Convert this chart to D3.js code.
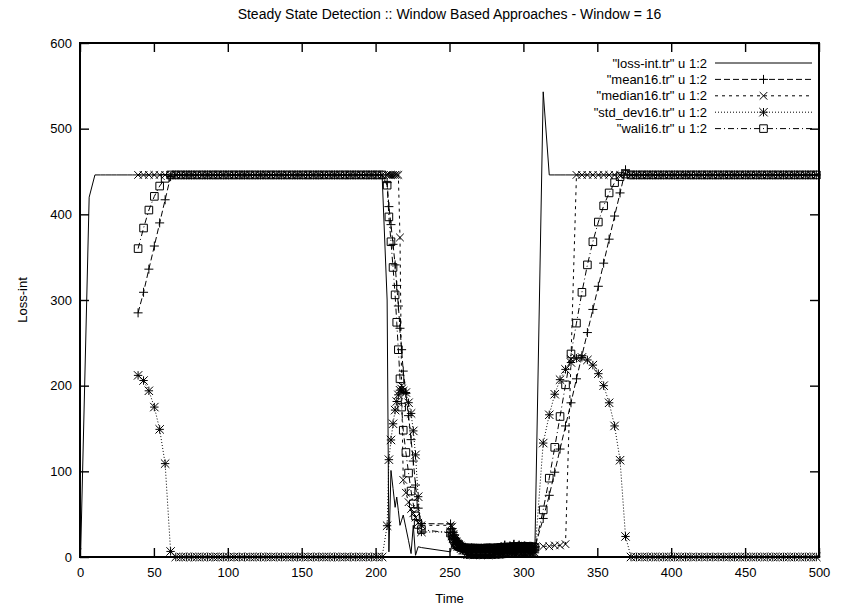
<!DOCTYPE html>
<html>
<head>
<meta charset="utf-8">
<title>Steady State Detection</title>
<script src="https://cdn.jsdelivr.net/npm/d3@7"></script>
<style>
  body { margin: 0; background: #fff; }
  svg text { font-family: "Liberation Sans", Arial, Helvetica, sans-serif; fill: #000; }
</style>
</head>
<body>
<div id="chart"></div>
<script>
// time of each loss event (shared by every trace)
var time = [
  // start-up
  0, 0.1, 0.2, 0.3, 0.4, 0.5, 6.2, 10.1, 13.8, 17.4, 21.1, 24.7, 28.4, 32.0, 35.6, 39.3, 43.0, 46.6, 50.3, 53.9, 57.6, 61.3,
  // first steady state
  64.8, 68.4, 72.0, 75.5, 79.1, 82.7, 86.3, 89.9, 93.4, 97.0, 100.6, 104.2, 107.8, 111.3, 114.9, 118.5, 122.1, 125.7, 129.2, 132.8,
  136.4, 140.0, 143.6, 147.1, 150.7, 154.3, 157.9, 161.5, 165.0, 168.6, 172.2, 175.8, 179.4, 182.9, 186.5, 190.1, 193.7, 197.3, 200.8, 204.4,
  // drop
  207.8, 209.0, 210.4, 211.8, 213.2, 214.3, 215.4, 216.5, 217.6, 218.7, 220.5, 222.3, 224.0, 225.5, 227.0, 228.8, 231.0,
  // congestion
  250.7, 251.8, 252.6, 253.5, 254.4, 255.3, 256.1, 257.0, 257.8, 258.8,
  259.6, 260.5, 261.3, 262.2, 263.1, 264.0, 264.8, 265.7, 266.5, 267.5,
  268.3, 269.2, 270.0, 271.0, 271.8, 272.7, 273.5, 274.4, 275.3, 276.2,
  277.0, 277.9, 278.7, 279.7, 280.5, 281.4, 282.2, 283.1, 284.0, 284.9,
  285.7, 286.6, 287.4, 288.4, 289.2, 290.1, 290.9, 291.9, 292.7, 293.6,
  294.4, 295.3, 296.2, 297.1, 297.9, 298.8, 299.6, 300.6, 301.4, 302.3,
  303.1, 304.0, 304.9, 305.8, 306.6, 307.8,
  // recovery
  313.4, 317.5, 321.2, 324.8, 328.5, 332.2, 335.9, 339.6, 343.3, 347.0, 350.7, 354.3, 358.0, 361.7, 365.4, 369.1, 372.8,
  // second steady state
  376.5, 380.2, 383.8, 387.5, 391.2, 394.9, 398.6, 402.3, 406.0, 409.7, 413.3, 417.0, 420.7, 424.4, 428.1, 431.8, 435.5, 439.2, 442.8,
  446.5, 450.2, 453.9, 457.6, 461.3, 465.0, 468.7, 472.3, 476.0, 479.7, 483.4, 487.1, 490.8, 494.5, 498.2, 501.9, 505.5, 509.2, 512.9
];

var lossInt = [
  60, 20, 15, 12, 10, 9, 420, 446, 446, 446, 446, 446, 446, 446, 446, 446, 446, 446, 446, 446, 446, 446,
  446, 446, 446, 446, 446, 446, 446, 446, 446, 446, 446, 446, 446, 446, 446, 446, 446, 446, 446, 446,
  446, 446, 446, 446, 446, 446, 446, 446, 446, 446, 446, 446, 446, 446, 446, 446, 446, 446, 446, 446,
  300, 6, 101, 80, 58, 70, 54, 37, 43, 49, 34, 19, 4, 37, 2, 12, 11,
  6, 16, 9, 12, 7, 11, 14, 8, 10, 13,
  6, 11, 9, 12, 8, 10, 15, 7, 9, 12,
  10, 8, 13, 9, 11, 7, 12, 10, 14, 8,
  11, 9, 13, 6, 12, 10, 15, 8, 11, 17,
  5, 13, 19, 4, 14, 9, 18, 6, 12, 20,
  3, 15, 11, 19, 5, 14, 8, 18, 4, 16,
  10, 13, 6, 17, 9, 12,
  543, 446, 446, 446, 446, 446, 446, 446, 446, 446, 446, 446, 446, 446, 446, 446, 446,
  446, 446, 446, 446, 446, 446, 446, 446, 446, 446, 446, 446, 446, 446, 446, 446, 446, 446, 446,
  446, 446, 446, 446, 446, 446, 446, 446, 446, 446, 446, 446, 446, 446, 446, 446, 446, 446, 446
];

var mean16 = [
  null, null, null, null, null, null, null, null, null, null, null, null, null, null, null, 285, 309, 336, 363, 390, 417, 444,
  446, 446, 446, 446, 446, 446, 446, 446, 446, 446, 446, 446, 446, 446, 446, 446, 446, 446, 446, 446,
  446, 446, 446, 446, 446, 446, 446, 446, 446, 446, 446, 446, 446, 446, 446, 446, 446, 446, 446, 446,
  437, 409, 388, 365, 341, 317, 293, 267, 242, 217, 191, 165, 137, 112, 84, 57, 39,
  38.6, 33.3, 28.8, 25.9, 22.0, 19.3, 17.9, 15.7, 13.3, 11.9,
  11.1, 11.6, 9.8, 10.4, 10.2, 10.1, 10.7, 10.1, 10.1, 10.1,
  10.3, 10.1, 10.1, 10.1, 10.2, 9.8, 10.2, 10.1, 10.4, 10.2,
  10.4, 10.3, 10.2, 10.1, 10.3, 10.2, 10.5, 10.5, 10.4, 10.9,
  10.5, 10.9, 11.3, 10.9, 10.9, 11.0, 11.4, 11.3, 11.2, 12.1,
  11.5, 11.8, 11.6, 12.3, 11.9, 11.7, 11.9, 12.2, 11.3, 12.0,
  11.8, 12.0, 11.3, 11.9, 11.8, 11.3,
  45, 72, 99, 126, 153, 180, 208, 235, 262, 289, 316, 343, 371, 398, 425, 452, 446,
  446, 446, 446, 446, 446, 446, 446, 446, 446, 446, 446, 446, 446, 446, 446, 446, 446, 446, 446,
  446, 446, 446, 446, 446, 446, 446, 446, 446, 446, 446, 446, 446, 446, 446, 446, 446, 446, 446
];

var median16 = [
  null, null, null, null, null, null, null, null, null, null, null, null, null, null, null, 446, 446, 446, 446, 446, 446, 446,
  446, 446, 446, 446, 446, 446, 446, 446, 446, 446, 446, 446, 446, 446, 446, 446, 446, 446, 446, 446,
  446, 446, 446, 446, 446, 446, 446, 446, 446, 446, 446, 446, 446, 446, 446, 446, 446, 446, 446, 446,
  446, 446, 446, 446, 446, 446, 446, 373, 200, 90, 75, 64, 56, 51, 46, 40, 37,
  37, 35.5, 26.5, 17.5, 14, 12, 12, 11.5, 11, 11,
  10.5, 11, 10.5, 11, 10.5, 10, 10, 10, 10, 10.5,
  10, 10, 10, 10.5, 10, 10, 10, 10.5, 10, 10,
  10, 10, 10.5, 10, 10, 10, 10.5, 11, 11, 11,
  11, 11, 11, 11.5, 11, 11.5, 12, 11.5, 12, 12,
  12, 12, 12.5, 12, 12.5, 13, 13, 13, 13, 13,
  13, 12.5, 12.5, 12, 12, 11.5,
  12.5, 12.5, 13.5, 13.5, 15, 231, 446, 446, 446, 446, 446, 446, 446, 446, 446, 446, 446,
  446, 446, 446, 446, 446, 446, 446, 446, 446, 446, 446, 446, 446, 446, 446, 446, 446, 446, 446,
  446, 446, 446, 446, 446, 446, 446, 446, 446, 446, 446, 446, 446, 446, 446, 446, 446, 446, 446
];

var stdDev16 = [
  null, null, null, null, null, null, null, null, null, null, null, null, null, null, null, 212, 206, 194, 175, 149, 109, 6.5,
  0, 0, 0, 0, 0, 0, 0, 0, 0, 0, 0, 0, 0, 0, 0, 0, 0, 0, 0, 0,
  0, 0, 0, 0, 0, 0, 0, 0, 0, 0, 0, 0, 0, 0, 0, 0, 0, 0, 0, 0,
  36.5, 113.6, 136.6, 155.5, 171.5, 181.5, 189.3, 194.7, 196.1, 193.7, 192.0, 180.1, 167.6, 147.2, 119.2, 70.4, 29.2,
  29.2, 24.5, 21.7, 20.6, 17.4, 15.3, 14.6, 13.1, 9.7, 8.0,
  7.9, 7.6, 3.5, 2.8, 2.9, 2.6, 3.1, 2.8, 2.5, 2.7,
  2.6, 2.6, 2.7, 2.5, 2.6, 2.8, 2.5, 2.6, 2.5, 2.5,
  2.6, 2.7, 2.8, 3.0, 2.9, 2.9, 3.1, 3.0, 3.0, 3.6,
  3.8, 3.9, 4.5, 4.8, 4.8, 4.8, 5.2, 5.2, 5.0, 4.9,
  5.5, 5.6, 5.6, 5.7, 5.9, 5.7, 5.6, 5.6, 5.9, 5.6,
  5.3, 5.2, 5.0, 5.1, 5.1, 4.9,
  133, 166, 190, 207, 219, 227, 232, 233, 230, 224, 214, 200, 180, 153, 113, 24, 0,
  0, 0, 0, 0, 0, 0, 0, 0, 0, 0, 0, 0, 0, 0, 0, 0, 0, 0, 0,
  0, 0, 0, 0, 0, 0, 0, 0, 0, 0, 0, 0, 0, 0, 0, 0, 0, 0, 0
];

var wali16 = [
  null, null, null, null, null, null, null, null, null, null, null, null, null, null, null, 360, 384, 405, 421, 433, 442, 446,
  446, 446, 446, 446, 446, 446, 446, 446, 446, 446, 446, 446, 446, 446, 446, 446, 446, 446, 446, 446,
  446, 446, 446, 446, 446, 446, 446, 446, 446, 446, 446, 446, 446, 446, 446, 446, 446, 446, 446, 446,
  434, 397, 368, 338, 306, 274, 242, 208, 175, 148, 122, 98, 77, 62, 48, 38, 32,
  28.0, 24.5, 21.1, 18.7, 16.1, 14.4, 13.4, 12.1, 11.3, 11.1,
  10.5, 10.4, 10.1, 10.3, 10.1, 10.0, 10.6, 10.0, 10.1, 10.2,
  10.3, 10.0, 10.2, 10.2, 10.1, 9.8, 10.2, 10.1, 10.5, 10.3,
  10.3, 10.3, 10.3, 10.2, 10.3, 10.3, 10.5, 10.5, 10.5, 11.1,
  10.5, 11.0, 11.6, 11.1, 11.1, 11.2, 11.8, 11.2, 11.4, 12.3,
  11.3, 11.9, 11.6, 12.5, 11.7, 11.9, 11.9, 12.0, 11.4, 12.0,
  11.8, 11.7, 11.2, 11.8, 11.7, 11.1,
  55, 92, 128, 164, 201, 237, 273, 309, 341, 368, 391, 410, 425, 437, 444, 447, 446,
  446, 446, 446, 446, 446, 446, 446, 446, 446, 446, 446, 446, 446, 446, 446, 446, 446, 446, 446,
  446, 446, 446, 446, 446, 446, 446, 446, 446, 446, 446, 446, 446, 446, 446, 446, 446, 446, 446
];

var seriesNames = ['"loss-int.tr" u 1:2', '"mean16.tr" u 1:2', '"median16.tr" u 1:2', '"std_dev16.tr" u 1:2', '"wali16.tr" u 1:2'];
var xTickValues = [0, 50, 100, 150, 200, 250, 300, 350, 400, 450, 500];
var yTickValues = [0, 100, 200, 300, 400, 500, 600];

var svgWidth = 854;
var svgHeight = 611;

var margin = {
  top: 43,
  right: 35,
  bottom: 54,
  left: 80
};

var width = svgWidth - margin.left - margin.right;
var height = svgHeight - margin.top - margin.bottom;

var svg = d3.select("#chart")
  .append("svg")
  .attr("width", svgWidth)
  .attr("height", svgHeight);

var chartGroup = svg.append("g")
  .attr("transform", `translate(${margin.left}, ${margin.top})`);

var xLinearScale = d3.scaleLinear().domain([0, 500]).range([0, width]);
var yLinearScale = d3.scaleLinear().domain([0, 600]).range([height, 0]);

// gnuplot style: ticks point inwards on all four sides
var tickLen = 9;

var bottomAxis = d3.axisBottom(xLinearScale).tickValues(xTickValues)
  .tickSizeInner(-tickLen).tickSizeOuter(0).tickPadding(11);
var topAxis = d3.axisTop(xLinearScale).tickValues(xTickValues)
  .tickSizeInner(-tickLen).tickSizeOuter(0).tickFormat("");
var leftAxis = d3.axisLeft(yLinearScale).tickValues(yTickValues)
  .tickSizeInner(-tickLen).tickSizeOuter(0).tickPadding(8);
var rightAxis = d3.axisRight(yLinearScale).tickValues(yTickValues)
  .tickSizeInner(-tickLen).tickSizeOuter(0).tickFormat("");

function styleAxis(g) {
  g.select(".domain").remove();
  g.selectAll(".tick line").attr("stroke", "#000").attr("stroke-width", 1.4);
  g.selectAll(".tick text").style("font-size", "13px").attr("fill", "#000");
}

chartGroup.append("g").attr("transform", `translate(0, ${height})`).call(bottomAxis).call(styleAxis);
chartGroup.append("g").call(topAxis).call(styleAxis);
chartGroup.append("g").call(leftAxis).call(styleAxis);
chartGroup.append("g").attr("transform", `translate(${width}, 0)`).call(rightAxis).call(styleAxis);

chartGroup.append("clipPath")
  .attr("id", "plot-clip")
  .append("rect")
  .attr("width", width)
  .attr("height", height);

// point shapes
function markerPath(type, s) {
  if (type == "plus") return `M${-s},0H${s}M0,${-s}V${s}`;
  if (type == "cross") return `M${-s},${-s}L${s},${s}M${-s},${s}L${s},${-s}`;
  if (type == "star") return `M${-s},0H${s}M0,${-s}V${s}M${-s},${-s}L${s},${s}M${-s},${s}L${s},${-s}`;
  if (type == "box") return `M${-s},${-s}H${s}V${s}H${-s}Z`;
  return "";
}

var series = [
  { name: seriesNames[0], values: lossInt, dash: null, marker: null, size: 0 },
  { name: seriesNames[1], values: mean16, dash: "6,3", marker: "plus", size: 4.5 },
  { name: seriesNames[2], values: median16, dash: "3,4", marker: "cross", size: 3.8 },
  { name: seriesNames[3], values: stdDev16, dash: "1,2", marker: "star", size: 4.2 },
  { name: seriesNames[4], values: wali16, dash: "6,3,1,3", marker: "box", size: 3.8 }
];

var line = d3.line()
  .x(d => xLinearScale(d.t))
  .y(d => yLinearScale(d.v));

series.forEach(function(s) {
  var points = time.map(function(t, i) {
    return { t: t, v: s.values[i] };
  }).filter(d => d.v !== null);

  chartGroup.append("path")
    .datum(points)
    .attr("clip-path", "url(#plot-clip)")
    .attr("fill", "none")
    .attr("stroke", "#000")
    .attr("stroke-width", 1)
    .attr("stroke-dasharray", s.dash)
    .attr("d", line);

  if (s.marker) {
    chartGroup.append("g")
      .selectAll("path")
      .data(points.filter(d => d.t <= 500))
      .enter()
      .append("path")
      .attr("transform", d => `translate(${xLinearScale(d.t)}, ${yLinearScale(d.v)})`)
      .attr("d", markerPath(s.marker, s.size))
      .attr("fill", "none")
      .attr("stroke", "#000")
      .attr("stroke-width", 1);
  }
});

// border
chartGroup.append("rect")
  .attr("width", width)
  .attr("height", height)
  .attr("fill", "none")
  .attr("stroke", "#000")
  .attr("stroke-width", 2);

// key, top right inside the frame
var keyGroup = svg.append("g");
var keyTextX = 707;
var keySampleX0 = 715;
var keySampleX1 = 812;

series.forEach(function(s, i) {
  var y = 63 + i * 16.4;
  keyGroup.append("text")
    .attr("x", keyTextX)
    .attr("y", y)
    .attr("dy", "0.35em")
    .attr("text-anchor", "end")
    .style("font-size", "13px")
    .text(s.name);
  keyGroup.append("line")
    .attr("x1", keySampleX0)
    .attr("x2", keySampleX1)
    .attr("y1", y)
    .attr("y2", y)
    .attr("stroke", "#000")
    .attr("stroke-width", 1)
    .attr("stroke-dasharray", s.dash);
  if (s.marker) {
    keyGroup.append("path")
      .attr("transform", `translate(${(keySampleX0 + keySampleX1) / 2}, ${y})`)
      .attr("d", markerPath(s.marker, s.size))
      .attr("fill", "none")
      .attr("stroke", "#000");
  }
});

// title and axis labels
svg.append("text")
  .attr("x", margin.left + width / 2)
  .attr("y", 19)
  .attr("text-anchor", "middle")
  .style("font-size", "14px")
  .text("Steady State Detection :: Window Based Approaches - Window = 16");

chartGroup.append("text")
  .attr("x", width / 2)
  .attr("y", height + 46)
  .attr("text-anchor", "middle")
  .style("font-size", "13px")
  .text("Time");

chartGroup.append("text")
  .attr("transform", "rotate(-90)")
  .attr("x", 0 - (height / 2))
  .attr("y", 0 - margin.left + 22)
  .attr("dy", "0.35em")
  .attr("text-anchor", "middle")
  .style("font-size", "13px")
  .text("Loss-int");
</script>
</body>
</html>
